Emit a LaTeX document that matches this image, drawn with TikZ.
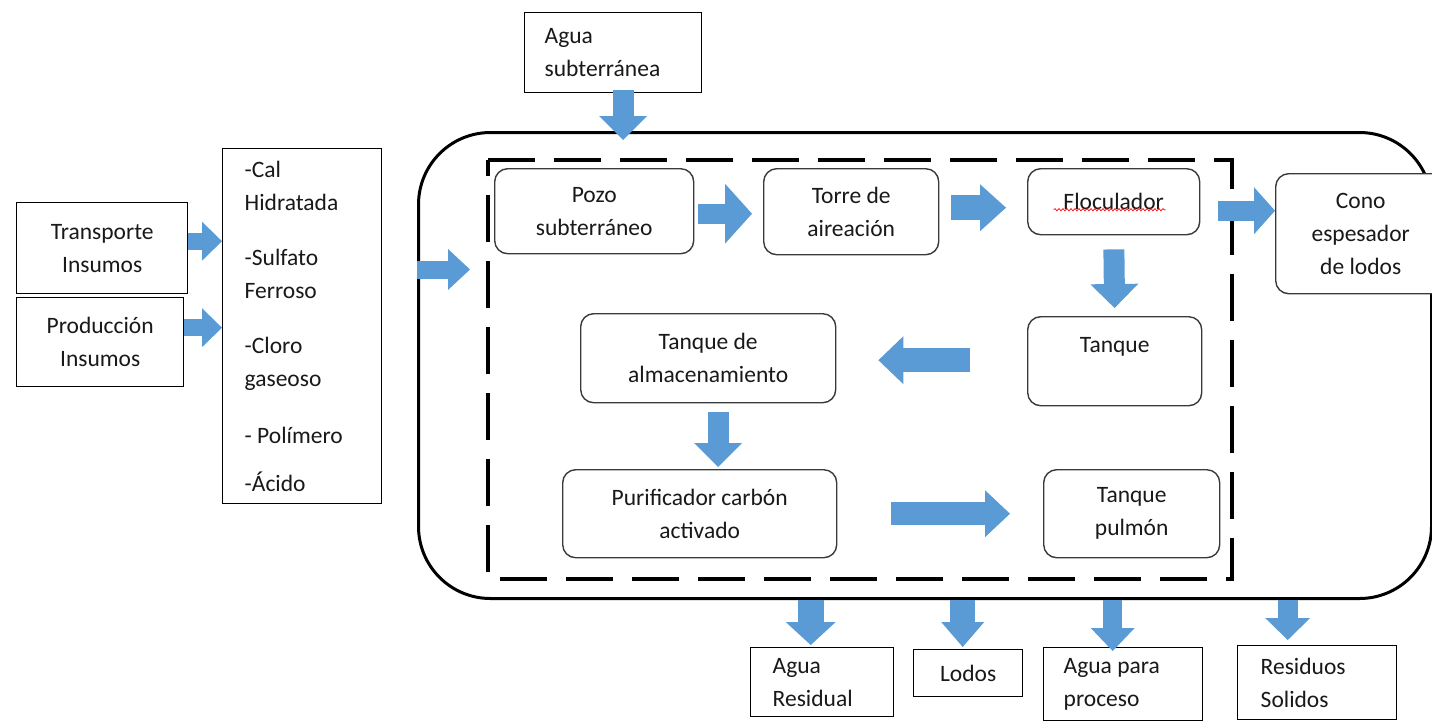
\documentclass[tikz,border=0pt]{standalone}
\usepackage{fontspec}
\setmainfont{Carlito}
\usetikzlibrary{arrows.meta,decorations.pathmorphing,calc}
\definecolor{arrowblue}{HTML}{5B9BD5}
\definecolor{boxgray}{HTML}{3A3A3A}
\begin{document}
\begin{tikzpicture}[x=1pt,y=-1pt,
  font=\fontsize{23.5}{33}\selectfont,
  box/.style={draw=black, line width=1.4pt, fill=white, inner sep=0pt, anchor=north west, align=center, text=black!90},
  lbox/.style={box, align=flush left},
  rbox/.style={box, draw=boxgray, rounded corners=13pt},
  barrow/.style n args={3}{draw=arrowblue, line width=#1, -{Triangle[width=#2, length=#3, line width=0pt]}},
  dashline/.style={draw=black, line width=4.5pt, dash pattern=on 47pt off 19pt}
]
\useasboundingbox (0,0) rectangle (1432,721);

% outer system boundary and dashed process boundary
\node[draw=black, line width=3pt, rounded corners=72pt, minimum width=1013pt, minimum height=466pt, inner sep=0pt, anchor=north west] (outer) at (417,131) {};
\node[minimum width=744pt, minimum height=419pt, inner sep=0pt, outer sep=0pt, anchor=north west] (process) at (488,160) {};
\draw[dashline] (process.north west) -- (process.north east) -- (process.south east) -- (process.south west) -- cycle;

% inputs
\node[lbox, inner xsep=20pt, text width=137pt, minimum height=80pt] (agua) at (524,12) {Agua\\subterránea};
\node[box, minimum width=171pt, minimum height=91pt] (trans) at (16,202) {Transporte\\Insumos};
\node[box, minimum width=167pt, minimum height=89pt] (prod) at (16,297) {Producción\\Insumos};
\node[lbox, inner xsep=22pt, text width=115pt, minimum height=355pt] (list) at (222,148)
  {-Cal\\Hidratada\\[22pt]-Sulfato\\Ferroso\\[22pt]-Cloro\\gaseoso\\[24pt]- Polímero\\[15pt]-Ácido};

% process steps
\node[rbox, minimum width=199pt, minimum height=85pt] (pozo) at (494,168) {Pozo\\subterráneo};
\node[rbox, minimum width=175pt, minimum height=86pt] (torre) at (763,168) {Torre de\\aireación};
\node[rbox, minimum width=172pt, minimum height=66pt] (floc) at (1027,168) {Floculador};
\node[rbox, minimum width=170pt, minimum height=120pt] (cono) at (1275,173) {Cono\\espesador\\de lodos};
\node[rbox, minimum width=174pt, minimum height=89pt] (tanque) at (1027,316) {Tanque\\~};
\node[rbox, minimum width=255pt, minimum height=89pt] (almac) at (580,313) {Tanque de\\almacenamiento};
\node[rbox, minimum width=274pt, minimum height=88pt] (purif) at (562,469) {Purificador carbón\\activado};
\node[rbox, minimum width=176pt, minimum height=88pt] (pulmon) at (1043,469) {Tanque\\pulmón};

% outputs
\node[lbox, inner xsep=22pt, text width=99pt, minimum height=69pt] (resid) at (750,647) {Agua\\Residual};
\node[box, minimum width=109pt, minimum height=47pt] (lodos) at (913,649) {Lodos};
\node[lbox, inner xsep=20pt, text width=119pt, minimum height=73pt] (proceso) at (1043,647) {Agua para\\proceso};
\node[lbox, inner xsep=23pt, text width=113pt, minimum height=74pt] (solidos) at (1237,645) {Residuos\\Solidos};

% spell-check underline
\draw[red, line width=0.7pt, decorate, decoration={snake, amplitude=1.1pt, segment length=4pt}]
  ([xshift=-60pt,yshift=-8pt]floc.center) -- ([xshift=52pt,yshift=-8pt]floc.center);

% block arrows
\draw[barrow={21pt}{48pt}{24pt}, shorten <=-3pt, shorten >=-9pt] ([xshift=10pt]agua.south) -- ([xshift=10pt]agua.south |- outer.north);
\draw[barrow={17pt}{39pt}{20pt}] ([yshift=7pt]trans.east) -- ([yshift=7pt]trans.east -| list.west);
\draw[barrow={17pt}{39pt}{20pt}] ([yshift=14.5pt]prod.east) -- ([yshift=14.5pt]prod.east -| list.west);
\draw[barrow={18pt}{41pt}{22pt}, shorten >=18pt] ([yshift=96pt]outer.west) -- ([yshift=96pt]outer.west -| process.west);

\draw[barrow={20pt}{60pt}{27pt}, shorten <=4pt, shorten >=11pt] ([yshift=-2.5pt]pozo.east) -- ([yshift=-2.5pt]pozo.east -| torre.west);
\draw[barrow={25pt}{47pt}{26pt}, shorten <=12pt, shorten >=21pt] ([yshift=4pt]torre.east) -- ([yshift=4pt]torre.east -| floc.west);
\draw[barrow={20pt}{47pt}{21pt}, shorten <=18pt] ([yshift=-9pt]floc.east) -- ([yshift=-9pt]floc.east -| cono.west);
\draw[barrow={21pt}{48pt}{24pt}, shorten <=14pt, shorten >=8pt] (floc.south) -- (tanque.north);
\draw[barrow={24pt}{48pt}{25pt}, shorten <=57pt, shorten >=42pt] ([yshift=1pt]tanque.west) -- ([yshift=1pt]tanque.west -| almac.east);
\draw[barrow={21pt}{48pt}{24pt}, shorten <=9pt, shorten >=2pt] ([xshift=10pt]almac.south) -- ([xshift=10pt]almac.south |- purif.north);
\draw[barrow={23pt}{47pt}{25pt}, shorten <=54pt, shorten >=33pt] (purif.east) -- (purif.east -| pulmon.west);

\draw[barrow={26pt}{50pt}{23pt}, shorten >=2pt] ([xshift=-11.5pt]resid.north |- outer.south) -- ([xshift=-11.5pt]resid.north);
\draw[barrow={25pt}{43pt}{25pt}, shorten >=2pt] ([xshift=-5.5pt]lodos.north |- outer.south) -- ([xshift=-5.5pt]lodos.north);
\draw[barrow={19pt}{44pt}{23pt}, shorten >=-4pt] ([xshift=-10.5pt]proceso.north |- outer.south) -- ([xshift=-10.5pt]proceso.north);
\draw[barrow={20pt}{45pt}{22pt}, shorten >=5pt] ([xshift=-29.5pt]solidos.north |- outer.south) -- ([xshift=-29.5pt]solidos.north);
\end{tikzpicture}
\end{document}
